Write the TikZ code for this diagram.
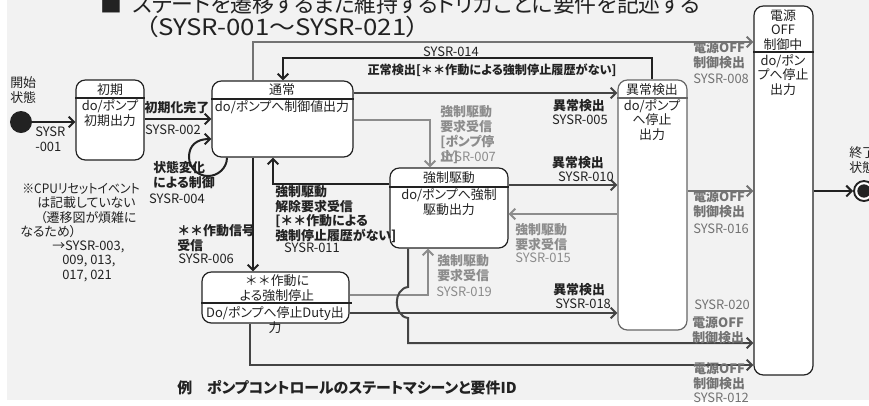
\documentclass[tikz,border=0pt]{standalone}
\usepackage{fontspec}
\setmainfont{Noto Sans CJK JP}[RawFeature=+palt]
\newfontfamily\fullw{Noto Sans CJK JP}
\usetikzlibrary{arrows.meta,fit}
\definecolor{bg}{HTML}{F2F2F2}
\definecolor{ink}{HTML}{222222}
\definecolor{lg}{HTML}{8C8C8C}
\definecolor{mg}{HTML}{737373}
\definecolor{dg}{HTML}{444444}
\newcommand\fs{\fontsize{9.7pt}{11pt}\selectfont}
\newcommand\ttl{\fontsize{17pt}{20pt}\selectfont}
\newcommand\capt{\fontsize{11.2pt}{13pt}\selectfont}
\newcommand\zz{{\fullw ＊＊}}
\begin{document}
\begin{tikzpicture}[x=0.75pt,y=-0.75pt,
  box/.style={draw=ink, fill=white, rounded corners=7pt, line width=0.9pt, inner sep=0pt},
  sep/.style={draw=ink, line width=0.8pt},
  txt/.style={inner sep=0pt, font=\fs, text=ink, align=left},
  ctxt/.style={txt, align=center},
  btxt/.style={txt, font=\fs\bfseries},
  conn/.style={line width=1.5pt, -{Straight Barb[length=4pt,width=8pt]}}
]
\useasboundingbox (0,0) rectangle (869,405);
\clip (0,0) rectangle (869,405);
\fill[white] (0,0) rectangle (869,405);
\fill[bg] (7,0) rectangle (869,400);

% title
\node[txt, font=\ttl, anchor=base west] (title1) at (100,12) {\scalebox{0.965}[1]{■\hspace{8pt}ステートを遷移するまた維持するトリガごとに要件を記述する}};
\node[txt, font=\ttl, anchor=base west] (title2) at (145,35) {\scalebox{1.14}[1]{（SYSR-001～SYSR-021）}};

% states
\node[box, fit={(76,80) (144,160)}] (init) {};
\node[box, fit={(212,81) (353,157)}] (tsujo) {};
\node[box, fit={(390,168) (508,248)}] (kyosei) {};
\node[box, draw=black!60, fit={(618,80) (687,330)}] (ijo) {};
\node[box, fit={(754,6) (813,375)}] (off) {};
\node[box, fit={(202,272) (349,323)}] (teishi) {};
\draw[sep] (init.west |- 0,98) -- (init.east |- 0,98);
\draw[sep] (tsujo.west |- 0,99) -- (tsujo.east |- 0,99);
\draw[sep] (kyosei.west |- 0,187) -- (kyosei.east |- 0,187);
\draw[sep, draw=black!60] (ijo.west |- 0,98) -- (ijo.east |- 0,98);
\draw[sep] (off.west |- 0,52) -- (off.east |- 0,52);
\draw[sep] (teishi.west |- 0,303) -- (352,303);

\node[circle, fill=ink, minimum size=16.5pt, inner sep=0pt] (start) at (21,122) {};
\node[circle, draw=ink, line width=1.4pt, fill=white, minimum size=15pt, inner sep=0pt] (end) at (864,191) {};
\node[circle, fill=ink, minimum size=10pt, inner sep=0pt] (endin) at (end) {};

% connectors
\draw[conn, ink] (start) -- (init.west |- start);
\draw[conn, ink] (init.east |- 0,119) -- (tsujo.west |- 0,119);
\draw[conn, ink] (tsujo.south -| 227,0) .. controls (227,168) and (218,176) .. (208,176) .. controls (198,176) and (189,168) .. (189,157) .. controls (189,146) and (196,139) .. (tsujo.west |- 0,139);
\draw[conn, ink] (tsujo.south -| 253,0) -- (teishi.north -| 253,0);
\draw[conn, mg] (tsujo.north -| 253,0) -- (253,42) -- (off.west |- 0,42);
\draw[conn, ink] (ijo.north -| 652,0) -- (652,58) -- (283,58) -- (tsujo.north -| 283,0);
\draw[conn, dg] (tsujo.east |- 0,93) -- (ijo.west |- 0,93);
\draw[conn, lg] (tsujo.east |- 0,120) -- (430,120) -- (kyosei.north -| 430,0);
\draw[conn, ink] (kyosei.west |- 0,184) -- (273,184) -- (tsujo.south -| 273,0);
\draw[conn, dg] (kyosei.east |- 0,185) -- (ijo.west |- 0,185);
\draw[conn, lg] (ijo.west |- 0,214) -- (kyosei.east |- 0,214);
\draw[conn, mg] (ijo.east |- 0,191) -- (off.west |- 0,191);
\draw[conn, ink] (off.east |- end) -- (end);
\draw[conn, lg] (teishi.east |- 0,295) -- (428,295) -- (kyosei.south -| 428,0);
\draw[conn, dg] (teishi.east |- 0,313) -- (ijo.west |- 0,313);
\draw[conn, dg] (kyosei.south -| 408,0) -- (408,287) .. controls (393,289) and (393,316) .. (408,318) -- (408,343) -- (off.west |- 0,343);
\draw[conn, dg] (teishi.south -| 250,0) -- (250,365) -- (off.west |- 0,365);

% state texts
\node[ctxt] (initH) at (110,90) {初期};
\node[ctxt] (initB) at (110,113) {do/ポンプ\\初期出力};
\node[ctxt] (tsujoH) at (282,90) {通常};
\node[ctxt] (tsujoB) at (282,107) {do/ポンプへ制御値出力};
\node[ctxt] (kyoseiH) at (449,178) {強制駆動};
\node[ctxt] (kyoseiB) at (449,202) {do/ポンプへ強制\\駆動出力};
\node[ctxt] (ijoH) at (652,90) {異常検出};
\node[ctxt] (ijoB) at (652,120) {do/ポンプ\\へ停止\\出力};
\node[ctxt] (offH) at (783,30) {電源\\OFF\\制御中};
\node[ctxt] (offB) at (783,75) {do/ポン\\プへ停止\\出力};
\node[ctxt] (teishiH) at (277,288) {\zz 作動に\\よる強制停止};
\node[ctxt] (teishiB) at (275,320) {Do/ポンプへ停止Duty出\\力};

% start / end labels
\node[txt, anchor=west] (startL) at (10,90) {開始\\状態};
\node[txt, anchor=west] (endL) at (849,160) {終了\\状態};

% transition labels
\node[txt, anchor=west] (l001) at (35,139) {SYSR\\-001};
\node[btxt] (l002a) at (177,108) {初期化完了};
\node[txt] (l002) at (173,130) {SYSR-002};
\node[btxt, anchor=west] (l004a) at (153,175) {状態変化\\による制御};
\node[txt] (l004) at (177,199) {SYSR-004};
\node[btxt, anchor=west] (l006a) at (177,238) {\zz 作動信号\\受信};
\node[txt, anchor=west] (l006) at (178,259) {SYSR-006};
\node[txt] (l014) at (451,52) {SYSR-014};
\node[btxt, font=\fontsize{9.1pt}{11pt}\selectfont\bfseries] (l014a) at (492,70) {正常検出[\zz 作動による強制停止履歴がない]};
\node[btxt, text=mg, anchor=west] (l008a) at (693,55) {電源OFF\\制御検出};
\node[txt, text=mg, anchor=west] (l008) at (693,79) {SYSR-008};
\node[btxt] (l005a) at (579,106) {異常検出};
\node[txt] (l005) at (580,120) {SYSR-005};
\node[btxt, text=lg, anchor=west] (l007a) at (440,127) {強制駆動\\要求受信\\{[}ポンプ停};
\node[txt, text=lg, anchor=west] (l007) at (440,157) {SYSR-007};
\node[btxt, text=lg, anchor=west] (l007b) at (440,157) {止]};
\node[btxt, anchor=west] (l011a) at (275,214) {強制駆動\\解除要求受信\\{[}\zz 作動による\\強制停止履歴がない]};
\node[txt] (l011) at (312,248) {SYSR-011};
\node[btxt] (l010a) at (578,163) {異常検出};
\node[txt] (l010) at (586,177) {SYSR-010};
\node[btxt, text=lg, anchor=west] (l015a) at (515,237) {強制駆動\\要求受信};
\node[txt, text=lg, anchor=west] (l015) at (515,258) {SYSR-015};
\node[btxt, text=mg, anchor=west] (l016a) at (693,204) {電源OFF\\制御検出};
\node[txt, text=mg, anchor=west] (l016) at (693,229) {SYSR-016};
\node[btxt, text=lg, anchor=west] (l019a) at (437,268) {強制駆動\\要求受信};
\node[txt, text=lg, anchor=west] (l019) at (436,292) {SYSR-019};
\node[btxt, anchor=west] (l018a) at (553,290) {異常検出};
\node[txt, anchor=west] (l018) at (555,304) {SYSR-018};
\node[txt, text=mg, anchor=west] (l020) at (694,305) {SYSR-020};
\node[btxt, text=mg, anchor=west] (l020a) at (692,330) {電源OFF\\制御検出};
\node[btxt, text=mg, anchor=west] (l012a) at (693,376) {電源OFF\\制御検出};
\node[txt, text=mg, anchor=west] (l012) at (693,398) {SYSR-012};

% note
\node[txt, anchor=west] (n1) at (22,189) {\scalebox{0.92}[1]{※CPUリセットイベント}};
\node[txt, anchor=west] (n2) at (37,203) {は記載していない};
\node[txt, anchor=west] (n3) at (40,218) {（遷移図が煩雑に};
\node[txt, anchor=west] (n4) at (20,232) {なるため）};
\node[txt, anchor=west] (n5) at (52,247) {→SYSR-003,};
\node[txt, anchor=west] (n6) at (62,261) {009, 013,};
\node[txt, anchor=west] (n7) at (62,276) {017, 021};

% caption
\node[txt, font=\capt\bfseries, anchor=west] (cap) at (177,388) {例　ポンプコントロールのステートマシーンと要件ID};
\end{tikzpicture}
\end{document}
